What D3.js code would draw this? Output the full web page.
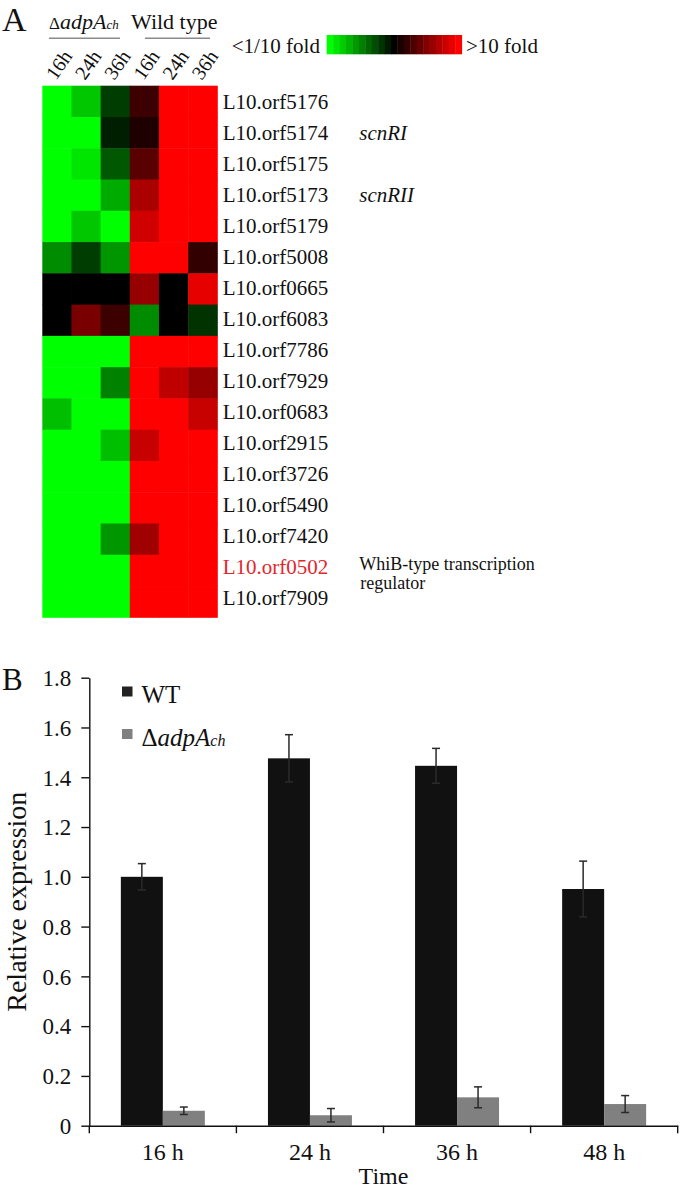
<!DOCTYPE html>
<html>
<head>
<meta charset="utf-8">
<title>adpA targets - heatmap and qRT-PCR</title>
<script src="https://cdn.jsdelivr.net/npm/d3@7/dist/d3.min.js"></script>
<style>
  body { margin: 0; background: #fff; }
  svg text { font-family: "Liberation Serif", "Times New Roman", serif; fill: #111; }
</style>
</head>
<body>
<svg id="fig" width="680" height="1188"></svg>
<script>
// ---------- panel A data ----------
var conditions = ["16h", "24h", "36h", "16h", "24h", "36h"];
var genes = ["L10.orf5176", "L10.orf5174", "L10.orf5175", "L10.orf5173", "L10.orf5179",
             "L10.orf5008", "L10.orf0665", "L10.orf6083", "L10.orf7786", "L10.orf7929",
             "L10.orf0683", "L10.orf2915", "L10.orf3726", "L10.orf5490", "L10.orf7420",
             "L10.orf0502", "L10.orf7909"];
var geneNotes = ["", "scnRI", "", "scnRII", "", "", "", "", "", "", "", "", "", "", "", "", ""];
var highlightGene = "L10.orf0502";
var highlightNote = ["WhiB-type transcription", "regulator"];
// log10 fold change, -1 = <1/10 fold, +1 = >10 fold
var foldLog = [
  [-1, -0.78, -0.24, 0.24, 1, 1],
  [-1, -1, -0.12, 0.12, 1, 1],
  [-1, -0.9, -0.35, 0.35, 1, 1],
  [-1, -1, -0.67, 0.67, 1, 1],
  [-1, -0.78, -1, 0.82, 1, 1],
  [-0.55, -0.24, -0.59, 1, 1, 0.2],
  [0, 0, 0, 0.59, 0, 0.9],
  [0, 0.47, 0.24, -0.55, 0, -0.2],
  [-1, -1, -1, 1, 1, 1],
  [-1, -1, -0.51, 1, 0.75, 0.59],
  [-0.75, -1, -1, 1, 1, 0.78],
  [-1, -1, -0.75, 0.78, 1, 1],
  [-1, -1, -1, 1, 1, 1],
  [-1, -1, -1, 1, 1, 1],
  [-1, -1, -0.59, 0.63, 1, 1],
  [-1, -1, -1, 1, 1, 1],
  [-1, -1, -1, 1, 1, 1]
];
var legendSteps = d3.range(21).map(function(i){ return -1 + i * 0.1; });

// ---------- panel B data ----------
var times = ["16 h", "24 h", "36 h", "48 h"];
var series = ["WT", "adpA"];
var wtMean = [1.0, 1.476, 1.446, 0.951];
var wtErr = [0.053, 0.095, 0.07, 0.112];
var mutMean = [0.060, 0.042, 0.114, 0.087];
var mutErr = [0.015, 0.027, 0.042, 0.034];
var yTicks = [0, 0.2, 0.4, 0.6, 0.8, 1.0, 1.2, 1.4, 1.6, 1.8];

var svg = d3.select("#fig");
svg.append("rect").attr("width", 680).attr("height", 1188).attr("fill", "#fff");

// =============== A : heatmap ===============
var color = d3.scaleLinear().domain([-1, 0, 1]).range(["#00ff00", "#000000", "#ff0000"]).clamp(true);

var hx = d3.scaleBand().domain(d3.range(conditions.length)).range([42.3, 217.3]);
var hy = d3.scaleBand().domain(genes).range([85.7, 617.3]);
var labelY = d3.scalePoint().domain(genes).range([109.3, 605]);

svg.append("text").attr("x", 2).attr("y", 31).style("font-size", "34px").text("A");

// group headers
var mutHead = svg.append("text").attr("x", 49).attr("y", 28.5).style("font-size", "22px");
mutHead.append("tspan").style("font-size", "17px").text("\u0394");
mutHead.append("tspan").style("font-style", "italic").text("adpA");
mutHead.append("tspan").style("font-style", "italic").style("font-size", "13px").text("ch");
svg.append("text").attr("x", 131).attr("y", 28.5).style("font-size", "22px").text("Wild type");

svg.append("line").attr("x1", 49).attr("x2", 120).attr("y1", 38.3).attr("y2", 38.3)
  .attr("stroke", "#8a8a8a").attr("stroke-width", 1.5);
svg.append("line").attr("x1", 145).attr("x2", 210).attr("y1", 38.3).attr("y2", 38.3)
  .attr("stroke", "#8a8a8a").attr("stroke-width", 1.5);

// column labels (rotated)
svg.selectAll(".colLab").data(conditions).enter().append("text")
  .attr("class", "colLab")
  .attr("transform", function(d, i){
    return "translate(" + (hx(i) + hx.bandwidth() / 2 - 1) + ",81) rotate(-55)";
  })
  .style("font-size", "20px")
  .text(function(d){ return d; });

// cells
var rows = svg.append("g").selectAll("g").data(foldLog).enter().append("g");
rows.selectAll("rect").data(function(d, r){ return d.map(function(v, c){ return {r: r, c: c, v: v}; }); })
  .enter().append("rect")
  .attr("x", function(d){ return hx(d.c); })
  .attr("y", function(d){ return hy(genes[d.r]); })
  .attr("width", hx.bandwidth() + 0.5)
  .attr("height", hy.bandwidth() + 0.5)
  .attr("fill", function(d){ return color(d.v); });

// gene labels
svg.selectAll(".gene").data(genes).enter().append("text")
  .attr("class", "gene")
  .attr("x", 222.7)
  .attr("y", function(d){ return labelY(d); })
  .style("font-size", "21px")
  .style("fill", function(d){ return d === highlightGene ? "#e3262b" : "#111"; })
  .text(function(d){ return d; });

svg.selectAll(".note").data(geneNotes).enter().append("text")
  .attr("class", "note")
  .attr("x", 359.3)
  .attr("y", function(d, i){ return labelY(genes[i]); })
  .style("font-size", "21px")
  .style("font-style", "italic")
  .text(function(d){ return d; });

svg.selectAll(".whib").data(highlightNote).enter().append("text")
  .attr("class", "whib")
  .attr("x", function(d, i){ return 359.3 + i; })
  .attr("y", function(d, i){ return labelY(highlightGene) - 4 + i * 19; })
  .style("font-size", "18px")
  .text(function(d){ return d; });

// colour legend
var lx = d3.scaleBand().domain(d3.range(legendSteps.length)).range([326.7, 461.7]);
svg.append("g").selectAll("rect").data(legendSteps).enter().append("rect")
  .attr("x", function(d, i){ return lx(i); })
  .attr("y", 35)
  .attr("width", lx.bandwidth() + 0.4)
  .attr("height", 19.3)
  .attr("fill", function(d){ return color(d); });
svg.append("text").attr("x", 231.7).attr("y", 52.5).style("font-size", "21px").text("<1/10 fold");
svg.append("text").attr("x", 466).attr("y", 52.5).style("font-size", "21px").text(">10 fold");

// =============== B : bar chart ===============
var x = d3.scaleBand().domain(times).range([89.3, 677.7]).paddingInner(0.429).paddingOuter(0.2145);
var xs = d3.scaleBand().domain(series).range([0, x.bandwidth()]);
var y = d3.scaleLinear().domain([0, 1.8]).range([1125.7, 677.7]);

svg.append("text").attr("x", 2).attr("y", 690).style("font-size", "31px").text("B");

var bars = [];
times.forEach(function(t, i){
  bars.push({t: t, s: "WT", v: wtMean[i], e: wtErr[i]});
  bars.push({t: t, s: "adpA", v: mutMean[i], e: mutErr[i]});
});
var fillOf = {WT: "#111111", adpA: "#808080"};

svg.append("g").selectAll("rect").data(bars).enter().append("rect")
  .attr("x", function(d){ return x(d.t) + xs(d.s); })
  .attr("y", function(d){ return y(d.v); })
  .attr("width", xs.bandwidth())
  .attr("height", function(d){ return y(0) - y(d.v); })
  .attr("fill", function(d){ return fillOf[d.s]; });

// error bars
var eb = svg.append("g").selectAll("g").data(bars).enter().append("g")
  .attr("stroke", "#2a2a2a").attr("stroke-width", 1.5);
eb.append("line")
  .attr("x1", function(d){ return x(d.t) + xs(d.s) + xs.bandwidth() / 2; })
  .attr("x2", function(d){ return x(d.t) + xs(d.s) + xs.bandwidth() / 2; })
  .attr("y1", function(d){ return y(d.v + d.e); })
  .attr("y2", function(d){ return y(d.v - d.e); });
eb.selectAll(".cap").data(function(d){ return [d.v + d.e, d.v - d.e].map(function(v){ return {d: d, v: v}; }); })
  .enter().append("line")
  .attr("x1", function(c){ return x(c.d.t) + xs(c.d.s) + xs.bandwidth() / 2 - 4; })
  .attr("x2", function(c){ return x(c.d.t) + xs(c.d.s) + xs.bandwidth() / 2 + 4; })
  .attr("y1", function(c){ return y(c.v); })
  .attr("y2", function(c){ return y(c.v); });

// y axis
var yAxis = svg.append("g").attr("transform", "translate(89.3,0)")
  .call(d3.axisLeft(y).tickValues(yTicks).tickSize(8).tickSizeOuter(0).tickPadding(10)
    .tickFormat(function(d){ return d === 0 ? "0" : d3.format(".1f")(d); }));
yAxis.selectAll("text").style("font-size", "23px").attr("fill", "#111").attr("dy", "0.34em");
yAxis.selectAll("path, line").attr("stroke", "#111").attr("stroke-width", 1.4);

// x axis
var xAxis = svg.append("g").attr("transform", "translate(0," + y(0) + ")")
  .call(d3.axisBottom(x).tickSize(0).tickSizeOuter(0).tickPadding(22));
xAxis.selectAll("text").style("font-size", "24px").attr("fill", "#111").attr("dy", "0.5em");
xAxis.select(".domain").attr("stroke", "#111").attr("stroke-width", 1.4);
var half = (x.step() - x.bandwidth()) / 2;
var bounds = times.map(function(t){ return x(t) - half; }).concat([x(times[times.length - 1]) + x.bandwidth() + half]);
xAxis.selectAll(".bound").data(bounds).enter().append("line")
  .attr("class", "bound")
  .attr("x1", function(d){ return d; }).attr("x2", function(d){ return d; })
  .attr("y1", 0).attr("y2", 7.5)
  .attr("stroke", "#111").attr("stroke-width", 1.4);

svg.append("text").attr("x", (89.3 + 677.7) / 2).attr("y", 1184).attr("text-anchor", "middle")
  .style("font-size", "24px").text("Time");
svg.append("text").attr("transform", "translate(26," + 901.7 + ") rotate(-90)")
  .attr("text-anchor", "middle").style("font-size", "28px").text("Relative expression");

// legend
var leg = svg.append("g").selectAll("g").data(series).enter().append("g")
  .attr("transform", function(d, i){ return "translate(122," + (686.5 + i * 42.5) + ")"; });
leg.append("rect").attr("width", 10.5).attr("height", 10)
  .attr("fill", function(d){ return d === "WT" ? "#222" : "#808080"; });
var legText = leg.append("text").attr("x", 19.5).attr("y", 16.5).style("font-size", "25px");
legText.filter(function(d){ return d === "WT"; }).text("WT");
var mt = legText.filter(function(d){ return d !== "WT"; });
mt.append("tspan").text("\u0394");
mt.append("tspan").style("font-style", "italic").text("adpA");
mt.append("tspan").style("font-style", "italic").style("font-size", "16px").text("ch");
</script>
</body>
</html>
